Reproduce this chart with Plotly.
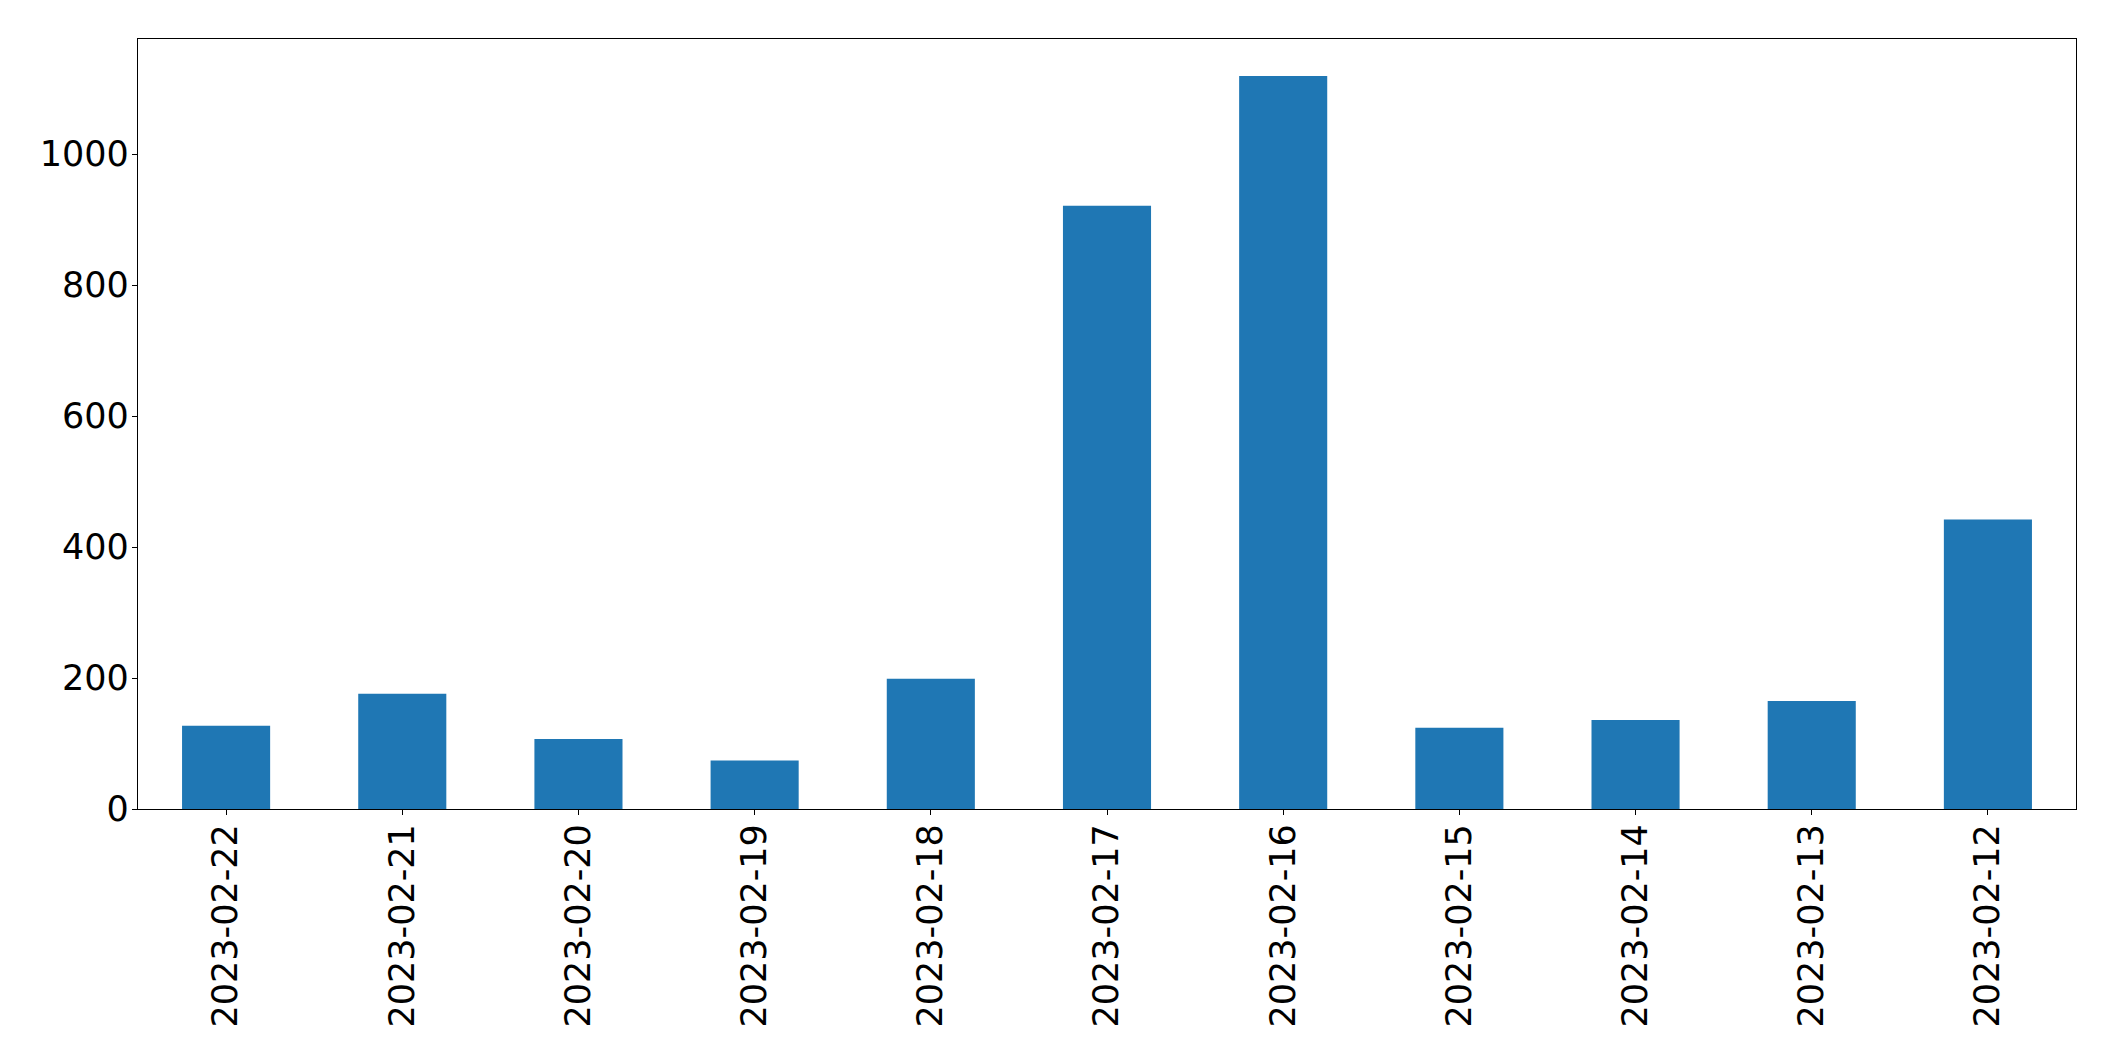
import plotly.graph_objects as go

dates = ["2023-02-22", "2023-02-21", "2023-02-20", "2023-02-19", "2023-02-18",
         "2023-02-17", "2023-02-16", "2023-02-15", "2023-02-14", "2023-02-13",
         "2023-02-12"]
counts = [127, 176, 107, 74, 199, 921, 1119, 124, 136, 165, 442]
y_ticks = [0, 200, 400, 600, 800, 1000]

fig = go.Figure(go.Bar(
    x=dates, y=counts, width=0.5,
    marker=dict(color="#1f77b4", line=dict(width=0)),
))

font = dict(family="DejaVu Sans", size=35, color="black")
fig.update_layout(
    width=2115, height=1061,
    margin=dict(l=130, r=47, t=31, b=260),
    paper_bgcolor="white", plot_bgcolor="white",
    showlegend=False,
    font=font,
)
fig.update_xaxes(
    type="category", range=[-0.5, len(dates) - 0.5],
    tickangle=-90, tickfont=font,
    showline=True, linecolor="black", linewidth=1.3, mirror=True,
    ticks="outside", ticklen=5, tickwidth=1.3, tickcolor="black",
    showgrid=False, zeroline=False, ticklabelstandoff=-5,
)
fig.update_yaxes(
    range=[0, 1175.6], tickvals=y_ticks, tickfont=font,
    showline=True, linecolor="black", linewidth=1.3, mirror=True,
    ticks="outside", ticklen=5, tickwidth=1.3, tickcolor="black",
    showgrid=False, zeroline=False, ticklabelstandoff=-4,
)

fig.write_html("out.html")
